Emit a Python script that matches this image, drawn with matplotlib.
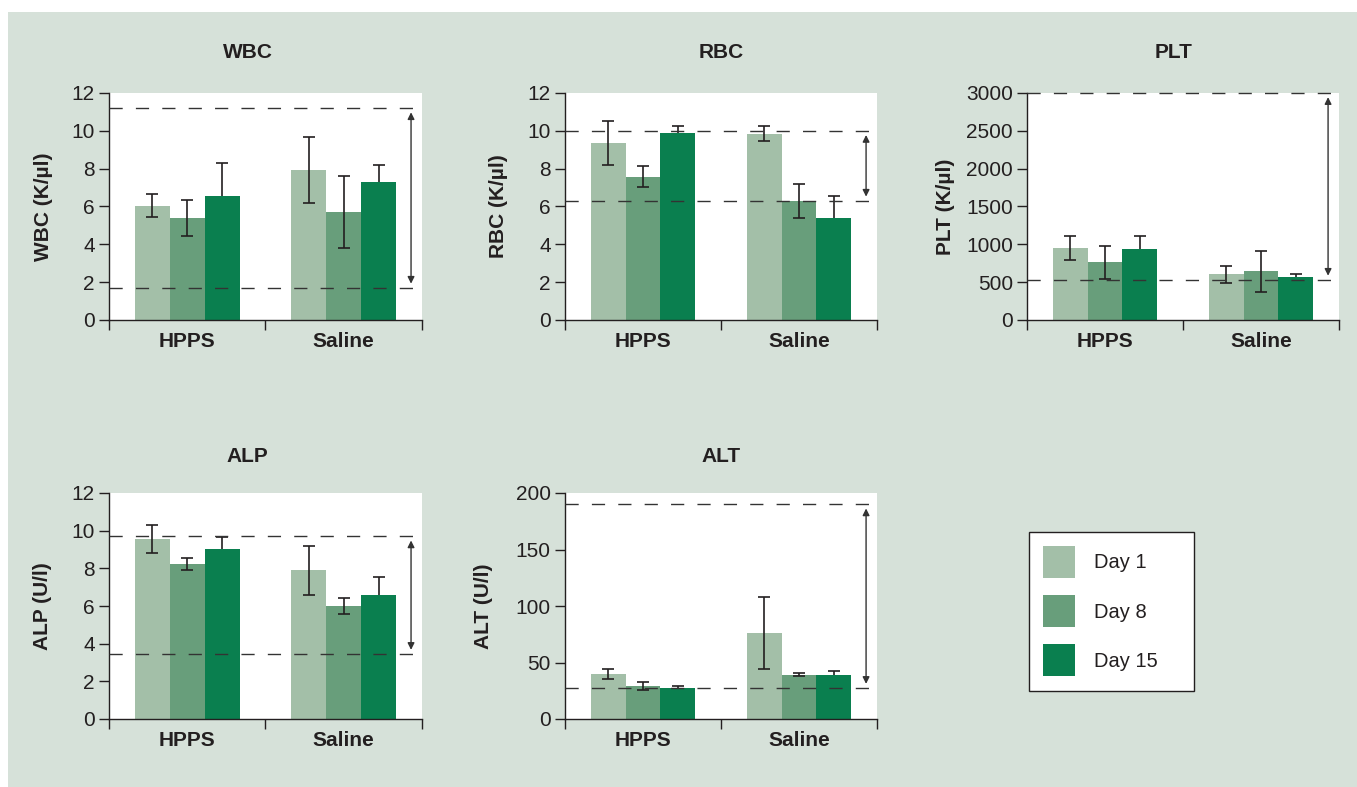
import matplotlib.pyplot as plt
from matplotlib.patches import Patch, Rectangle

plt.rcParams['font.family'] = ['Liberation Sans', 'DejaVu Sans']

W, H = 1357, 787

groups = ["HPPS", "Saline"]
days = ["Day 1", "Day 8", "Day 15"]
colors = ["#a3bfa8", "#689e7b", "#0a7f4f"]
ink = "#231f20"

# values ordered HPPS day1/8/15, then Saline day1/8/15
wbc_mean = [6.05, 5.4, 6.55, 7.93, 5.7, 7.29]
wbc_err = [0.6, 0.95, 1.75, 1.72, 1.9, 0.92]
wbc_ref = (1.7, 11.2)

rbc_mean = [9.37, 7.57, 9.9, 9.85, 6.3, 5.4]
rbc_err = [1.16, 0.55, 0.33, 0.38, 0.9, 1.15]
rbc_ref = (6.3, 10.0)

plt_mean = [950, 760, 934, 602, 642, 562]
plt_err = [155, 215, 172, 108, 275, 50]
plt_ref = (530, 3000)

alp_mean = [9.55, 8.22, 9.02, 7.91, 6.0, 6.58]
alp_err = [0.75, 0.33, 0.67, 1.3, 0.43, 0.94]
alp_ref = (3.45, 9.7)

alt_mean = [40, 29.5, 27.6, 76, 39.1, 39.1]
alt_err = [4.3, 3.4, 1.3, 32, 1.2, 3.0]
alt_ref = (27.4, 190)

panels = [
    # name, ylabel, mean, err, ref range, ymax, yticks, box px (l, t, r, b), title px (x, y), label offset px
    ("WBC", "WBC (K/µl)", wbc_mean, wbc_err, wbc_ref, 12, range(0, 13, 2), (109, 93, 422, 320), (248, 53), 56),
    ("RBC", "RBC (K/µl)", rbc_mean, rbc_err, rbc_ref, 12, range(0, 13, 2), (565, 93, 877, 320), (721, 53), 57),
    ("PLT", "PLT (K/µl)", plt_mean, plt_err, plt_ref, 3000, range(0, 3001, 500), (1027, 93, 1339, 320), (1174, 53), 72),
    ("ALP", "ALP (U/l)", alp_mean, alp_err, alp_ref, 12, range(0, 13, 2), (109, 493, 422, 719), (247, 457), 57),
    ("ALT", "ALT (U/l)", alt_mean, alt_err, alt_ref, 200, range(0, 201, 50), (565, 493, 877, 719), (721, 457), 72),
]

fig = plt.figure(figsize=(W / 100, H / 100), dpi=100)
fig.patch.set_facecolor("white")
fig.add_artist(Rectangle((8 / W, 0), 1 - 8 / W, 1 - 12 / H, transform=fig.transFigure,
                         facecolor="#d6e1d9", edgecolor="none", zorder=-5))

bw = 0.224
for name, ylab, mean, err, ref, ymax, yt, box, tpos, loff in panels:
    l, t, r, b = box
    ax = fig.add_axes([l / W, 1 - b / H, (r - l) / W, (b - t) / H])
    ax.set_facecolor("white")

    for g in range(2):
        for d in range(3):
            i = g * 3 + d
            x = g + 0.5 + (d - 1) * bw
            ax.bar(x, mean[i], width=bw, color=colors[d], edgecolor="none", zorder=2)
            low = 0 if d == 2 else err[i]
            eb = ax.errorbar(x, mean[i], yerr=[[low], [err[i]]], fmt="none", ecolor=ink,
                             elinewidth=1.2, capsize=4, capthick=1.2, zorder=3)
            if d == 2:
                eb[1][0].set_visible(False)

    for v in ref:
        ln, = ax.plot([0, 1.97], [v, v], color="#333333", lw=1.0, zorder=4, clip_on=False)
        ln.set_dashes((9.5, 9.5))
    ax.annotate("", xy=(0.965, ref[0]), xytext=(0.965, ref[1]),
                xycoords=("axes fraction", "data"), textcoords=("axes fraction", "data"),
                arrowprops=dict(arrowstyle="<|-|>", color="#333333", lw=1.0,
                                shrinkA=3, shrinkB=3, mutation_scale=10), zorder=4)

    ax.set_xlim(0, 2)
    ax.set_ylim(0, ymax)
    ax.set_yticks(list(yt))
    ax.set_xticks([0, 1, 2])
    ax.set_xticklabels([])
    ax.set_xticks([0.5, 1.5], minor=True)
    ax.set_xticklabels(groups, minor=True, fontsize=15, fontweight="bold", color=ink)
    ax.tick_params(axis="x", which="major", length=7.2, width=1.0, color=ink)
    ax.tick_params(axis="x", which="minor", length=0, pad=9)
    ax.tick_params(axis="y", length=7.2, width=1.0, color=ink, labelsize=15,
                   labelcolor=ink, pad=3)
    for s in ["top", "right"]:
        ax.spines[s].set_visible(False)
    for s in ["left", "bottom"]:
        ax.spines[s].set_color(ink)
        ax.spines[s].set_linewidth(1.0)

    ax.set_ylabel(ylab, fontsize=15, fontweight="bold", color=ink)
    ax.yaxis.set_label_coords(-loff / (r - l), 0.5)

    fig.text(tpos[0] / W, 1 - tpos[1] / H, name, ha="center", va="center",
             fontsize=15, fontweight="bold", color=ink)

handles = [Patch(facecolor=c, edgecolor="none") for c in colors]
leg = fig.legend(handles, days, loc="upper left",
                 bbox_to_anchor=(1029 / W, 1 - 695 / H, 165 / W, 163 / H), mode="expand",
                 borderaxespad=0, fontsize=14.5, handlelength=1.59, handleheight=2.07,
                 labelspacing=0.85, borderpad=0.7, handletextpad=0.95,
                 fancybox=False, framealpha=1, edgecolor=ink)
leg.get_frame().set_linewidth(1.0)
for txt in leg.get_texts():
    txt.set_color(ink)

fig.savefig("out.png", dpi=100, facecolor=fig.get_facecolor())
